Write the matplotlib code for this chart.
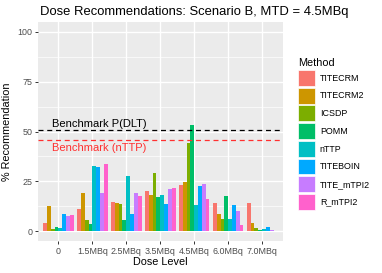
import numpy as np
import matplotlib.pyplot as plt
from matplotlib.patches import Patch

plt.rcParams['font.family'] = ['Liberation Sans', 'DejaVu Sans']

doses = ['0', '1.5MBq', '2.5MBq', '3.5MBq', '4.5MBq', '6.0MBq', '7.0MBq']
methods = ['TITECRM', 'TITECRM2', 'ICSDP', 'POMM', 'nTTP', 'TITEBOIN', 'TITE_mTPI2', 'R_mTPI2']
colors = ['#F8766D', '#CD9600', '#7CAE00', '#00BE67', '#00BFC4', '#00A9FF', '#C77CFF', '#FF61CC']

# % recommendation per method, one value per dose level
titecrm  = [4.1, 11.2, 14.4, 20.2, 23.1, 14.2, 14.1]
titecrm2 = [12.6, 19.2, 14.2, 17.9, 24.6, 8.4, 4.1]
icsdp    = [1.0, 5.6, 13.6, 29.2, 44.1, 5.9, 1.7]
pomm     = [2.0, 3.7, 5.7, 17.2, 53.4, 17.4, 0.7]
nttp     = [1.5, 32.9, 27.7, 18.1, 13.1, 6.1, 1.1]
titeboin = [8.4, 32.1, 8.6, 13.4, 22.8, 13.1, 2.2]
tite_mtpi2 = [7.4, 18.9, 19.1, 21.2, 23.7, 9.9, 0.7]
r_mtpi2  = [8.2, 33.7, 17.6, 21.7, 16.1, 3.2, 0.2]
values = [titecrm, titecrm2, icsdp, pomm, nttp, titeboin, tite_mtpi2, r_mtpi2]

bench_dlt = 50.7
bench_nttp = 45.9

W, H = 382, 273
fig = plt.figure(figsize=(W / 100, H / 100), dpi=100)
ax = fig.add_axes([38 / W, 1 - 241 / H, (282.5 - 38) / W, (241 - 22) / H])
ax.set_facecolor('#EBEBEB')

x = np.arange(1, len(doses) + 1)
bw = 0.9 / len(methods)
for i, (m, v) in enumerate(zip(methods, values)):
    ax.bar(x - 0.45 + bw * (i + 0.5), v, width=bw, color=colors[i], label=m, zorder=3)

ax.axhline(bench_dlt, color='black', linestyle=(0, (4, 3)), lw=0.9, zorder=4)
ax.axhline(bench_nttp, color='#FF3030', linestyle=(0, (4, 3)), lw=0.9, zorder=4)
ax.text(0.8, bench_dlt + 0.8, 'Benchmark P(DLT)', color='black', fontsize=8, va='bottom', ha='left', zorder=5)
ax.text(0.8, bench_nttp - 1.8, 'Benchmark (nTTP)', color='#FF3030', fontsize=8, va='top', ha='left', zorder=5)

ax.set_xlim(0.4, len(doses) + 0.6)
ax.set_ylim(-5, 105)
ax.set_xticks(x)
ax.set_xticklabels(doses)
ax.set_yticks([0, 25, 50, 75, 100])
ax.set_yticks([12.5, 37.5, 62.5, 87.5], minor=True)
ax.grid(True, which='major', color='white', lw=1.0, zorder=0)
ax.grid(True, which='minor', axis='y', color='white', lw=0.5, zorder=0)
ax.tick_params(axis='both', which='major', colors='#333333', labelcolor='#4D4D4D', labelsize=6.4,
               length=2.5, width=0.7, pad=1.5)
ax.tick_params(axis='both', which='minor', length=0)
for s in ax.spines.values():
    s.set_visible(False)

ax.set_xlabel('Dose Level', fontsize=7.8, labelpad=1)
ax.set_ylabel('% Recommendation', fontsize=7.8, labelpad=4)
fig.text(40 / W, 1 - 12 / H, 'Dose Recommendations: Scenario B, MTD = 4.5MBq',
         fontsize=9.4, ha='left', va='center')

handles = [Patch(facecolor=c, edgecolor='white', lw=0.5) for c in colors]
leg = fig.legend(handles, methods, loc='upper left', bbox_to_anchor=(291 / W, 1 - 51 / H),
                 frameon=False, title='Method', fontsize=6.4, title_fontsize=7.8,
                 handlelength=1.85, handleheight=2.35, labelspacing=0.22, handletextpad=0.6,
                 borderpad=0.3, alignment='left')

plt.savefig('out.png', dpi=100)
